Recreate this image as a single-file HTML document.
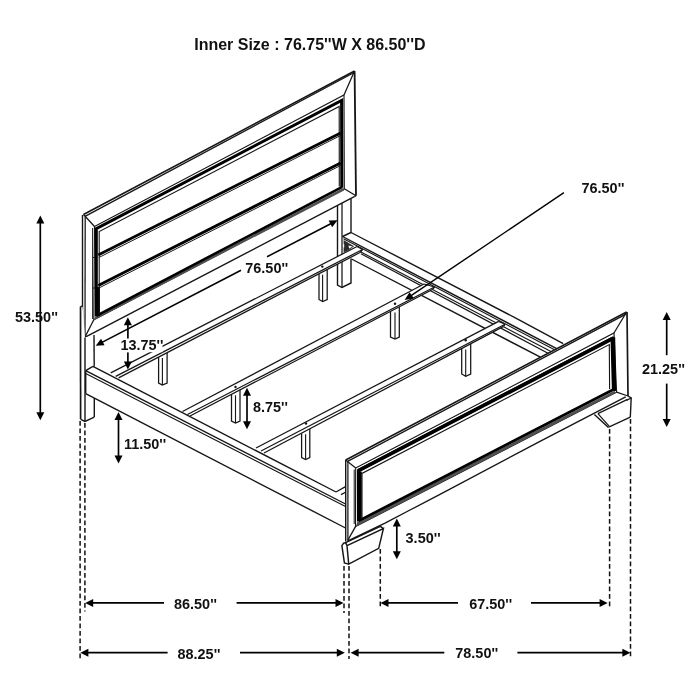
<!DOCTYPE html>
<html lang="en">
<head>
<meta charset="utf-8">
<title>Bed Dimensions</title>
<style>
html,body{margin:0;padding:0;background:#fff;}
body{width:700px;height:700px;overflow:hidden;}
svg{display:block;filter:grayscale(1);}
svg text{font-family:"Liberation Sans",Arial,Helvetica,sans-serif;font-weight:700;fill:#111;}
</style>
</head>
<body>
<svg width="700" height="700" viewBox="0 0 700 700" stroke-linecap="butt">
<rect x="0" y="0" width="700" height="700" fill="#fff"/>
<path d="M351.00 232.50 L520.00 320.30 L563.20 343.60" fill="none" stroke="#161616" stroke-width="1.4" stroke-linejoin="miter" />
<line x1="342.50" y1="236.50" x2="556.70" y2="348.60" stroke="#161616" stroke-width="1.4" />
<line x1="351.00" y1="232.50" x2="342.50" y2="236.50" stroke="#161616" stroke-width="1.4" />
<line x1="343.50" y1="238.70" x2="554.50" y2="349.80" stroke="#161616" stroke-width="1.12" />
<line x1="360.00" y1="251.50" x2="551.00" y2="351.60" stroke="#161616" stroke-width="1.12" />
<line x1="361.00" y1="253.80" x2="548.00" y2="353.20" stroke="#161616" stroke-width="1.26" />
<line x1="351.50" y1="259.00" x2="540.40" y2="357.20" stroke="#161616" stroke-width="1.4" />
<path d="M343.60 240.00 L343.60 252.50 L349.00 250.00 L354.00 246.20 Z" fill="#2a2a2a" stroke="none"/>
<path d="M348.40 245.60 L352.60 246.40 L349.20 248.40 Z" fill="#fff" stroke="none"/>
<path d="M342.60 244.20 L344.20 244.20 L344.20 247.40 L342.60 247.40 Z" fill="#fff" stroke="none"/>
<path d="M337.50 201.00 L337.50 285.00 L342.00 287.50 L351.00 283.00 L351.00 258.50" fill="none" stroke="#161616" stroke-width="1.4" stroke-linejoin="miter" />
<line x1="342.00" y1="203.00" x2="342.00" y2="287.50" stroke="#161616" stroke-width="1.26" />
<line x1="351.00" y1="199.00" x2="351.00" y2="233.00" stroke="#161616" stroke-width="1.4" />
<path d="M158.60 357.12 L158.60 383.00 L162.40 385.00 L167.10 383.00 L167.10 352.71 Z" fill="#fff" stroke="none"/>
<path d="M158.60 357.12 L158.60 383.00 L162.40 385.00 L167.10 383.00 L167.10 352.71" fill="none" stroke="#161616" stroke-width="1.26" stroke-linejoin="miter" />
<line x1="162.40" y1="358.12" x2="162.40" y2="385.00" stroke="#161616" stroke-width="1.12" />
<path d="M319.00 273.80 L319.00 299.50 L322.60 301.50 L327.20 299.50 L327.20 269.54 Z" fill="#fff" stroke="none"/>
<path d="M319.00 273.80 L319.00 299.50 L322.60 301.50 L327.20 299.50 L327.20 269.54" fill="none" stroke="#161616" stroke-width="1.26" stroke-linejoin="miter" />
<line x1="322.60" y1="274.80" x2="322.60" y2="301.50" stroke="#161616" stroke-width="1.12" />
<path d="M110.70 372.90 L357.00 246.50 L362.50 249.50 L360.00 252.50 L118.60 377.90 L115.70 376.40 Z" fill="#fff" stroke="none"/>
<line x1="110.70" y1="372.90" x2="357.00" y2="246.50" stroke="#161616" stroke-width="1.26" />
<line x1="115.70" y1="376.40" x2="362.50" y2="249.50" stroke="#161616" stroke-width="1.26" />
<line x1="118.60" y1="377.90" x2="360.00" y2="252.50" stroke="#161616" stroke-width="1.26" />
<line x1="357.00" y1="246.50" x2="362.50" y2="249.50" stroke="#161616" stroke-width="1.26" />
<line x1="362.50" y1="249.50" x2="360.00" y2="252.50" stroke="#161616" stroke-width="1.26" />
<circle cx="322.3" cy="266.6" r="1.2" fill="#111"/>
<path d="M231.50 394.35 L231.50 421.00 L235.50 423.00 L240.00 421.00 L240.00 389.92 Z" fill="#fff" stroke="none"/>
<path d="M231.50 394.35 L231.50 421.00 L235.50 423.00 L240.00 421.00 L240.00 389.92" fill="none" stroke="#161616" stroke-width="1.26" stroke-linejoin="miter" />
<line x1="235.50" y1="395.35" x2="235.50" y2="423.00" stroke="#161616" stroke-width="1.12" />
<path d="M390.50 311.41 L390.50 337.00 L395.00 339.00 L399.30 337.00 L399.30 306.82 Z" fill="#fff" stroke="none"/>
<path d="M390.50 311.41 L390.50 337.00 L395.00 339.00 L399.30 337.00 L399.30 306.82" fill="none" stroke="#161616" stroke-width="1.26" stroke-linejoin="miter" />
<line x1="395.00" y1="312.41" x2="395.00" y2="339.00" stroke="#161616" stroke-width="1.12" />
<path d="M182.50 411.50 L424.00 284.00 L434.50 287.00 L432.50 289.50 L190.00 416.00 L187.50 414.50 Z" fill="#fff" stroke="none"/>
<line x1="182.50" y1="411.50" x2="424.00" y2="284.00" stroke="#161616" stroke-width="1.26" />
<line x1="187.50" y1="414.50" x2="434.50" y2="287.00" stroke="#161616" stroke-width="1.26" />
<line x1="190.00" y1="416.00" x2="432.50" y2="289.50" stroke="#161616" stroke-width="1.26" />
<line x1="424.00" y1="284.00" x2="434.50" y2="287.00" stroke="#161616" stroke-width="1.26" />
<line x1="434.50" y1="287.00" x2="432.50" y2="289.50" stroke="#161616" stroke-width="1.26" />
<circle cx="235.5" cy="387.0" r="1.2" fill="#111"/>
<circle cx="395.0" cy="303.7" r="1.2" fill="#111"/>
<path d="M301.60 433.13 L301.60 457.50 L305.60 459.50 L309.80 457.50 L309.80 428.80 Z" fill="#fff" stroke="none"/>
<path d="M301.60 433.13 L301.60 457.50 L305.60 459.50 L309.80 457.50 L309.80 428.80" fill="none" stroke="#161616" stroke-width="1.26" stroke-linejoin="miter" />
<line x1="305.60" y1="434.13" x2="305.60" y2="459.50" stroke="#161616" stroke-width="1.12" />
<path d="M461.70 348.54 L461.70 374.00 L465.70 376.40 L470.70 374.00 L470.70 343.78 Z" fill="#fff" stroke="none"/>
<path d="M461.70 348.54 L461.70 374.00 L465.70 376.40 L470.70 374.00 L470.70 343.78" fill="none" stroke="#161616" stroke-width="1.26" stroke-linejoin="miter" />
<line x1="465.70" y1="349.54" x2="465.70" y2="376.40" stroke="#161616" stroke-width="1.12" />
<path d="M256.00 448.00 L498.60 321.40 L505.00 324.30 L503.60 326.40 L264.00 453.00 L261.00 451.00 Z" fill="#fff" stroke="none"/>
<line x1="256.00" y1="448.00" x2="498.60" y2="321.40" stroke="#161616" stroke-width="1.26" />
<line x1="261.00" y1="451.00" x2="505.00" y2="324.30" stroke="#161616" stroke-width="1.26" />
<line x1="264.00" y1="453.00" x2="503.60" y2="326.40" stroke="#161616" stroke-width="1.26" />
<line x1="498.60" y1="321.40" x2="505.00" y2="324.30" stroke="#161616" stroke-width="1.26" />
<line x1="505.00" y1="324.30" x2="503.60" y2="326.40" stroke="#161616" stroke-width="1.26" />
<circle cx="306.0" cy="423.5" r="1.2" fill="#111"/>
<circle cx="465.7" cy="340.3" r="1.2" fill="#111"/>
<path d="M83.50 214.50 L354.50 71.00 L356.00 195.70 L84.80 337.40 L82.50 336.00 L82.50 215.00 Z" fill="#fff" stroke="none"/>
<line x1="83.50" y1="214.50" x2="354.50" y2="71.00" stroke="#161616" stroke-width="1.54" />
<line x1="85.00" y1="216.30" x2="354.20" y2="72.50" stroke="#161616" stroke-width="1.33" />
<line x1="354.60" y1="71.00" x2="356.00" y2="195.70" stroke="#161616" stroke-width="1.82" />
<line x1="84.80" y1="337.40" x2="354.30" y2="196.60" stroke="#161616" stroke-width="1.4" />
<line x1="354.30" y1="196.60" x2="356.00" y2="195.70" stroke="#161616" stroke-width="1.4" />
<path d="M82.50 215.00 L82.50 334.50 L84.80 337.40" fill="none" stroke="#161616" stroke-width="1.4" stroke-linejoin="miter" />
<line x1="85.20" y1="216.50" x2="85.00" y2="337.40" stroke="#161616" stroke-width="1.26" />
<line x1="83.50" y1="214.50" x2="94.50" y2="226.50" stroke="#161616" stroke-width="1.26" />
<line x1="354.50" y1="71.00" x2="344.00" y2="95.00" stroke="#161616" stroke-width="1.26" />
<line x1="356.00" y1="195.70" x2="344.30" y2="188.80" stroke="#161616" stroke-width="1.26" />
<line x1="84.80" y1="337.40" x2="93.80" y2="319.80" stroke="#161616" stroke-width="1.26" />
<path d="M94.50 226.50 L344.00 95.00 L344.30 188.80 L93.80 319.80 Z" fill="none" stroke="#161616" stroke-width="1.12" stroke-linejoin="miter" />
<line x1="92.60" y1="228.00" x2="92.60" y2="319.00" stroke="#161616" stroke-width="0.98" />
<path d="M96.30 316.60 L96.30 228.60 L341.60 100.40 L341.80 187.80" fill="none" stroke="#000" stroke-width="3.0" stroke-linejoin="miter" />
<path d="M95.10 317.10 L342.80 188.30 L344.10 190.40 L93.90 320.20 Z" fill="#505050" stroke="none"/>
<line x1="96.30" y1="315.90" x2="341.80" y2="187.10" stroke="#000" stroke-width="2.6" />
<line x1="97.60" y1="287.00" x2="97.60" y2="316.00" stroke="#000" stroke-width="4.8" />
<path d="M99.20 314.00 L99.20 231.60 L339.20 106.40 L339.30 186.60" fill="none" stroke="#161616" stroke-width="1.12" stroke-linejoin="miter" />
<line x1="98.30" y1="254.90" x2="340.60" y2="132.90" stroke="#000" stroke-width="2.8" />
<line x1="98.90" y1="257.50" x2="340.60" y2="135.50" stroke="#161616" stroke-width="0.98" />
<line x1="98.30" y1="285.40" x2="340.60" y2="162.90" stroke="#000" stroke-width="2.8" />
<line x1="98.90" y1="288.00" x2="340.60" y2="165.50" stroke="#161616" stroke-width="0.98" />
<line x1="92.60" y1="257.50" x2="95.00" y2="257.50" stroke="#161616" stroke-width="0.98" />
<line x1="92.60" y1="288.00" x2="95.00" y2="288.00" stroke="#161616" stroke-width="0.98" />
<path d="M80.50 306.40 L82.60 306.40 L85.00 337.40 L94.00 335.50 L94.30 417.10 L85.00 421.40 L80.70 419.30 Z" fill="#fff" stroke="none"/>
<line x1="80.50" y1="306.40" x2="80.60" y2="419.30" stroke="#161616" stroke-width="1.68" />
<line x1="80.50" y1="306.40" x2="82.60" y2="306.40" stroke="#161616" stroke-width="1.4" />
<line x1="85.00" y1="337.40" x2="85.00" y2="421.40" stroke="#161616" stroke-width="1.4" />
<line x1="94.00" y1="335.00" x2="94.20" y2="366.40" stroke="#161616" stroke-width="1.4" />
<line x1="94.30" y1="397.90" x2="94.30" y2="417.10" stroke="#161616" stroke-width="1.4" />
<path d="M80.70 419.30 L85.00 421.40 L94.30 417.10" fill="none" stroke="#161616" stroke-width="1.4" stroke-linejoin="miter" />
<path d="M92.90 366.40 L336.00 492.00 L345.50 497.00 L345.50 528.00 L85.70 393.60 L85.70 370.70 Z" fill="#fff" stroke="none"/>
<line x1="92.90" y1="366.40" x2="336.00" y2="492.00" stroke="#161616" stroke-width="1.4" />
<line x1="85.70" y1="370.70" x2="345.50" y2="504.00" stroke="#161616" stroke-width="1.4" />
<line x1="85.70" y1="373.60" x2="345.50" y2="506.60" stroke="#161616" stroke-width="1.12" />
<line x1="85.70" y1="393.60" x2="345.50" y2="528.00" stroke="#161616" stroke-width="1.4" />
<line x1="85.70" y1="370.70" x2="92.90" y2="366.40" stroke="#161616" stroke-width="1.4" />
<line x1="85.70" y1="370.70" x2="85.70" y2="393.60" stroke="#161616" stroke-width="1.4" />
<line x1="336.00" y1="492.00" x2="345.50" y2="486.60" stroke="#161616" stroke-width="1.26" />
<line x1="341.00" y1="494.60" x2="345.50" y2="492.30" stroke="#161616" stroke-width="1.26" />
<path d="M345.70 460.00 L626.60 312.00 L628.00 396.00 L631.20 398.00 L630.30 417.20 L609.30 427.00 L594.50 414.40 L383.40 528.60 L378.70 548.30 L348.70 564.10 L344.40 562.90 L341.90 545.70 L343.60 543.10 L345.70 541.00 Z" fill="#fff" stroke="none"/>
<line x1="345.70" y1="460.00" x2="626.60" y2="312.00" stroke="#161616" stroke-width="1.54" />
<line x1="347.60" y1="461.30" x2="626.40" y2="313.80" stroke="#161616" stroke-width="1.33" />
<line x1="627.00" y1="312.00" x2="628.00" y2="396.00" stroke="#161616" stroke-width="1.68" />
<line x1="345.70" y1="460.00" x2="345.70" y2="541.40" stroke="#161616" stroke-width="1.4" />
<line x1="347.90" y1="461.50" x2="347.90" y2="540.50" stroke="#161616" stroke-width="1.26" />
<path d="M347.90 540.80 L385.00 523.20 L410.00 510.00 L440.00 494.30 L540.00 441.40 L625.70 396.80" fill="none" stroke="#161616" stroke-width="1.4" stroke-linejoin="miter" />
<line x1="345.70" y1="460.00" x2="355.70" y2="467.90" stroke="#161616" stroke-width="1.26" />
<line x1="626.60" y1="312.00" x2="614.00" y2="333.00" stroke="#161616" stroke-width="1.26" />
<line x1="628.00" y1="396.00" x2="616.60" y2="392.20" stroke="#161616" stroke-width="1.26" />
<line x1="347.60" y1="540.60" x2="355.50" y2="526.60" stroke="#161616" stroke-width="1.26" />
<path d="M355.70 467.90 L614.00 333.00 L616.60 392.20 L355.50 526.60 Z" fill="none" stroke="#161616" stroke-width="1.12" stroke-linejoin="miter" />
<line x1="354.20" y1="469.50" x2="354.20" y2="524.00" stroke="#161616" stroke-width="0.98" />
<path d="M358.50 521.60 L358.50 470.30 L612.00 338.50 L613.40 390.20" fill="none" stroke="#000" stroke-width="3.0" stroke-linejoin="miter" />
<line x1="358.50" y1="470.60" x2="612.00" y2="338.80" stroke="#000" stroke-width="3.6" />
<line x1="613.30" y1="337.20" x2="614.30" y2="391.00" stroke="#000" stroke-width="3.8" />
<line x1="360.80" y1="471.60" x2="360.80" y2="519.60" stroke="#000" stroke-width="2.0" />
<path d="M357.30 522.10 L614.40 390.70 L616.00 392.80 L355.90 526.50 Z" fill="#505050" stroke="none"/>
<line x1="358.50" y1="520.90" x2="613.40" y2="389.50" stroke="#000" stroke-width="2.6" />
<path d="M362.00 518.60 L362.00 473.40 L609.30 344.60 L609.60 389.00" fill="none" stroke="#161616" stroke-width="1.12" stroke-linejoin="miter" />
<path d="M628.00 396.00 L631.20 398.00 L630.30 417.20" fill="none" stroke="#161616" stroke-width="1.4" stroke-linejoin="miter" />
<line x1="631.20" y1="398.00" x2="626.50" y2="400.40" stroke="#161616" stroke-width="1.26" />
<path d="M597.90 413.60 L627.50 399.40" fill="none" stroke="#161616" stroke-width="1.26" stroke-linejoin="miter" />
<path d="M594.40 414.40 L607.90 427.10 L609.30 426.90 L630.30 417.20" fill="none" stroke="#161616" stroke-width="1.4" stroke-linejoin="miter" />
<path d="M597.90 413.60 L609.30 426.40" fill="none" stroke="#161616" stroke-width="1.26" stroke-linejoin="miter" />
<path d="M347.00 545.70 L383.40 528.60 L378.70 548.30 L348.70 564.10 L347.00 545.70" fill="none" stroke="#161616" stroke-width="1.47" stroke-linejoin="miter" />
<path d="M345.70 542.70 L380.40 526.40 L383.40 528.60" fill="none" stroke="#161616" stroke-width="1.4" stroke-linejoin="miter" />
<path d="M347.00 545.70 L345.70 542.70 L343.60 543.10 L341.90 545.70 L344.40 562.90 L348.70 564.10" fill="none" stroke="#161616" stroke-width="1.47" stroke-linejoin="miter" />
<line x1="80.1" y1="421" x2="80.1" y2="659.5" stroke="#111" stroke-width="1.5" stroke-dasharray="4.7 2.8"/>
<line x1="84.9" y1="423" x2="84.9" y2="611.5" stroke="#111" stroke-width="1.5" stroke-dasharray="4.7 2.8"/>
<line x1="344.0" y1="566" x2="344.0" y2="613" stroke="#111" stroke-width="1.5" stroke-dasharray="4.7 2.8"/>
<line x1="349.0" y1="566" x2="349.0" y2="659" stroke="#111" stroke-width="1.5" stroke-dasharray="4.7 2.8"/>
<line x1="380.3" y1="549" x2="380.3" y2="607.5" stroke="#111" stroke-width="1.5" stroke-dasharray="4.7 2.8"/>
<line x1="609.6" y1="429" x2="609.6" y2="607.5" stroke="#111" stroke-width="1.5" stroke-dasharray="4.7 2.8"/>
<line x1="630.5" y1="419" x2="630.5" y2="657.5" stroke="#111" stroke-width="1.5" stroke-dasharray="4.7 2.8"/>
<line x1="91.20" y1="602.90" x2="164.00" y2="602.90" stroke="#000" stroke-width="1.68" />
<line x1="236.60" y1="602.90" x2="337.50" y2="602.90" stroke="#000" stroke-width="1.68" />
<path d="M85.20 602.90 L93.20 598.90 L93.20 606.90 Z" fill="#000" stroke="none"/>
<path d="M343.50 602.90 L335.50 606.90 L335.50 598.90 Z" fill="#000" stroke="none"/>
<line x1="86.40" y1="652.70" x2="167.60" y2="652.70" stroke="#000" stroke-width="1.68" />
<line x1="240.00" y1="652.70" x2="338.80" y2="652.70" stroke="#000" stroke-width="1.68" />
<path d="M80.40 652.70 L88.40 648.70 L88.40 656.70 Z" fill="#000" stroke="none"/>
<path d="M344.80 652.70 L336.80 656.70 L336.80 648.70 Z" fill="#000" stroke="none"/>
<line x1="386.50" y1="602.90" x2="458.00" y2="602.90" stroke="#000" stroke-width="1.68" />
<line x1="531.00" y1="602.90" x2="601.60" y2="602.90" stroke="#000" stroke-width="1.68" />
<path d="M380.50 602.90 L388.50 598.90 L388.50 606.90 Z" fill="#000" stroke="none"/>
<path d="M607.60 602.90 L599.60 606.90 L599.60 598.90 Z" fill="#000" stroke="none"/>
<line x1="356.60" y1="652.70" x2="444.30" y2="652.70" stroke="#000" stroke-width="1.68" />
<line x1="517.40" y1="652.70" x2="624.40" y2="652.70" stroke="#000" stroke-width="1.68" />
<path d="M350.60 652.70 L358.60 648.70 L358.60 656.70 Z" fill="#000" stroke="none"/>
<path d="M630.40 652.70 L622.40 656.70 L622.40 648.70 Z" fill="#000" stroke="none"/>
<line x1="40.30" y1="221.40" x2="40.30" y2="414.20" stroke="#000" stroke-width="1.68" />
<path d="M40.30 215.40 L44.30 223.40 L36.30 223.40 Z" fill="#000" stroke="none"/>
<path d="M40.30 420.20 L36.30 412.20 L44.30 412.20 Z" fill="#000" stroke="none"/>
<line x1="666.70" y1="318.00" x2="666.70" y2="355.20" stroke="#000" stroke-width="1.68" />
<line x1="666.70" y1="383.60" x2="666.70" y2="421.00" stroke="#000" stroke-width="1.68" />
<path d="M666.70 312.00 L670.70 320.00 L662.70 320.00 Z" fill="#000" stroke="none"/>
<path d="M666.70 427.00 L662.70 419.00 L670.70 419.00 Z" fill="#000" stroke="none"/>
<line x1="127.90" y1="323.20" x2="127.90" y2="338.60" stroke="#000" stroke-width="1.68" />
<line x1="127.90" y1="352.20" x2="127.90" y2="363.40" stroke="#000" stroke-width="1.68" />
<path d="M127.90 317.20 L131.90 325.20 L123.90 325.20 Z" fill="#000" stroke="none"/>
<path d="M127.90 369.40 L123.90 361.40 L131.90 361.40 Z" fill="#000" stroke="none"/>
<line x1="247.00" y1="393.70" x2="247.00" y2="423.30" stroke="#000" stroke-width="1.68" />
<path d="M247.00 387.70 L251.00 395.70 L243.00 395.70 Z" fill="#000" stroke="none"/>
<path d="M247.00 429.30 L243.00 421.30 L251.00 421.30 Z" fill="#000" stroke="none"/>
<line x1="118.50" y1="418.00" x2="118.50" y2="457.60" stroke="#000" stroke-width="1.68" />
<path d="M118.50 412.00 L122.50 420.00 L114.50 420.00 Z" fill="#000" stroke="none"/>
<path d="M118.50 463.60 L114.50 455.60 L122.50 455.60 Z" fill="#000" stroke="none"/>
<line x1="396.80" y1="524.60" x2="396.80" y2="553.30" stroke="#000" stroke-width="1.68" />
<path d="M396.80 518.60 L400.80 526.60 L392.80 526.60 Z" fill="#000" stroke="none"/>
<path d="M396.80 559.30 L392.80 551.30 L400.80 551.30 Z" fill="#000" stroke="none"/>
<line x1="101.03" y1="342.94" x2="241.00" y2="270.29" stroke="#000" stroke-width="1.54" />
<line x1="267.00" y1="256.79" x2="332.17" y2="222.96" stroke="#000" stroke-width="1.54" />
<path d="M95.70 345.70 L101.07 338.69 L104.53 345.34 Z" fill="#000" stroke="none"/>
<path d="M337.50 220.20 L332.13 227.21 L328.67 220.56 Z" fill="#000" stroke="none"/>
<line x1="563.90" y1="192.70" x2="409.58" y2="296.65" stroke="#000" stroke-width="1.4" />
<path d="M404.60 300.00 L409.55 292.14 L413.74 298.36 Z" fill="#000" stroke="none"/>
<text x="194.2" y="49.9" font-size="16" text-anchor="start">Inner Size : 76.75''W X 86.50''D</text>
<text x="15.0" y="321.8" font-size="14.45" text-anchor="start">53.50''</text>
<text x="245.3" y="273.4" font-size="14.45" text-anchor="start">76.50''</text>
<text x="581.5" y="193.2" font-size="14.45" text-anchor="start">76.50''</text>
<rect x="119.5" y="339.0" width="43" height="13.2" fill="#fff"/>
<text x="120.4" y="350.4" font-size="14.45" text-anchor="start">13.75''</text>
<text x="253.0" y="412.2" font-size="14.45" text-anchor="start">8.75''</text>
<text x="124.0" y="449.3" font-size="14.45" text-anchor="start">11.50''</text>
<text x="405.6" y="542.7" font-size="14.45" text-anchor="start">3.50''</text>
<text x="642.0" y="374.4" font-size="14.45" text-anchor="start">21.25''</text>
<text x="174.0" y="609.2" font-size="14.45" text-anchor="start">86.50''</text>
<text x="469.2" y="608.5" font-size="14.45" text-anchor="start">67.50''</text>
<text x="177.5" y="658.7" font-size="14.45" text-anchor="start">88.25''</text>
<text x="455.3" y="658.1" font-size="14.45" text-anchor="start">78.50''</text>
</svg>
</body>
</html>
